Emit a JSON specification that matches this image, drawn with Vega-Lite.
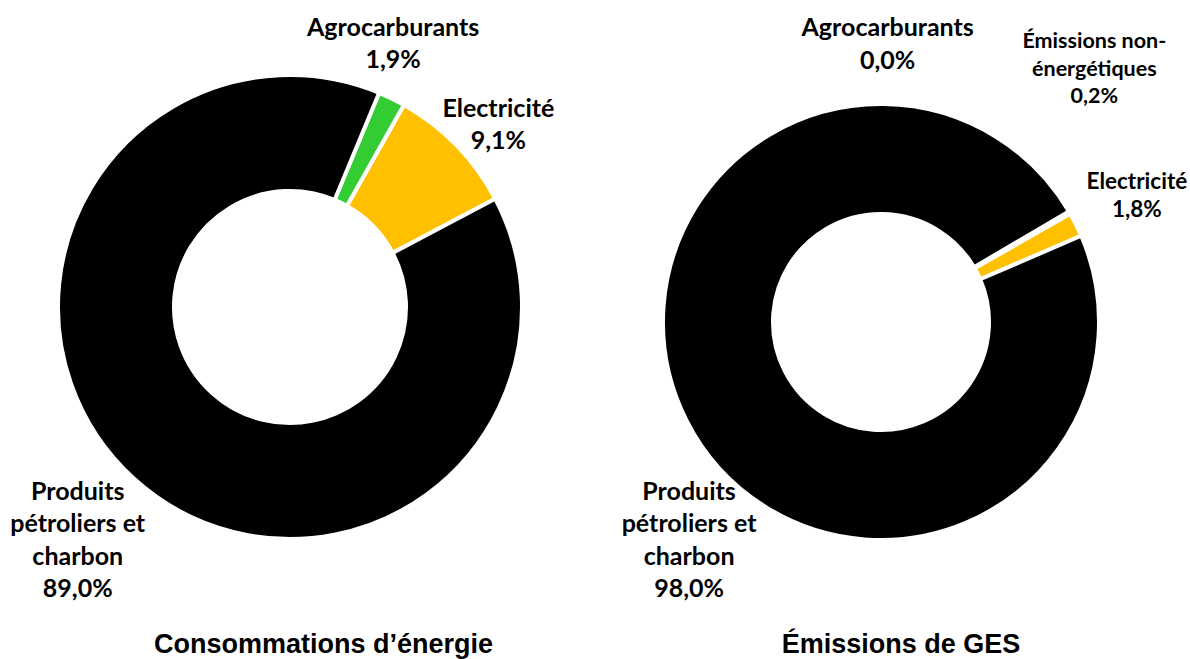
{
  "$schema": "https://vega.github.io/schema/vega-lite/v6.json",
  "background": "white",
  "padding": 0,
  "bounds": "flush",
  "spacing": 0,
  "config": {"view": {"stroke": null}, "font": "Lato"},
  "datasets": {
    "conso": [
      {"name": "Agrocarburants", "value": 1.9, "order": 1, "label": "Agrocarburants\n1,9%"},
      {"name": "Electricité", "value": 9.1, "order": 2, "label": "Electricité\n9,1%"},
      {"name": "Produits pétroliers et charbon", "value": 89.0, "order": 3, "label": "Produits\npétroliers et\ncharbon\n89,0%"}
    ],
    "ges": [
      {"name": "Agrocarburants", "value": 0.0, "order": 1, "label": "Agrocarburants\n0,0%"},
      {"name": "Émissions non-énergétiques", "value": 0.2, "order": 2, "label": "Émissions non-\nénergétiques\n0,2%"},
      {"name": "Electricité", "value": 1.8, "order": 3, "label": "Electricité\n1,8%"},
      {"name": "Produits pétroliers et charbon", "value": 98.0, "order": 4, "label": "Produits\npétroliers et\ncharbon\n98,0%"}
    ]
  },
  "hconcat": [
    {
      "width": 580,
      "height": 614,
      "data": {"name": "conso"},
      "title": {"text": "Consommations d’énergie", "orient": "bottom", "anchor": "middle", "frame": "group", "font": "Liberation Sans", "fontSize": 27, "fontWeight": "bold", "color": "#000000", "offset": 18.3, "dx": 33.5},
      "encoding": {
        "theta": {"field": "value", "type": "quantitative", "stack": true, "scale": {"domain": [0, 100], "range": [0.39444, 6.67763]}},
        "order": {"field": "order", "type": "quantitative"}
      },
      "layer": [
        {
          "mark": {"type": "arc", "outerRadius": 232, "innerRadius": 116, "stroke": "white", "strokeWidth": 4},
          "encoding": {
            "color": {"field": "name", "type": "nominal", "legend": null,
              "scale": {"domain": ["Agrocarburants", "Electricité", "Produits pétroliers et charbon"], "range": ["#33CC33", "#FFC000", "#000000"]}}
          }
        },
        {
          "mark": {"type": "text", "radius": 283, "dx": -21, "dy": -25, "font": "Lato", "fontWeight": "bold", "fontSize": 25, "lineHeight": 32.4, "lineBreak": "\n", "align": "center", "baseline": "middle", "color": "#000000"},
          "encoding": {"text": {"condition": {"test": "datum.name === 'Agrocarburants'", "field": "label", "type": "nominal"}, "value": ""}}
        },
        {
          "mark": {"type": "text", "radius": 278, "dx": 9, "dy": -4.7, "font": "Lato", "fontWeight": "bold", "fontSize": 25, "lineHeight": 32.4, "lineBreak": "\n", "align": "center", "baseline": "middle", "color": "#000000"},
          "encoding": {"text": {"condition": {"test": "datum.name === 'Electricité'", "field": "label", "type": "nominal"}, "value": ""}}
        },
        {
          "mark": {"type": "text", "radius": 270, "dx": -30.2, "dy": -14.4, "font": "Lato", "fontWeight": "bold", "fontSize": 25, "lineHeight": 32.4, "lineBreak": "\n", "align": "center", "baseline": "middle", "color": "#000000"},
          "encoding": {"text": {"condition": {"test": "datum.name === 'Produits pétroliers et charbon'", "field": "label", "type": "nominal"}, "value": ""}}
        }
      ]
    },
    {
      "width": 602,
      "height": 644,
      "data": {"name": "ges"},
      "title": {"text": "Émissions de GES", "orient": "bottom", "anchor": "middle", "frame": "group", "font": "Liberation Sans", "fontSize": 27, "fontWeight": "bold", "color": "#000000", "offset": -11.7, "dx": 20},
      "encoding": {
        "theta": {"field": "value", "type": "quantitative", "stack": true, "scale": {"domain": [0, 100], "range": [1.03847, 7.32166]}},
        "order": {"field": "order", "type": "quantitative"}
      },
      "layer": [
        {
          "mark": {"type": "arc", "outerRadius": 218, "innerRadius": 108, "stroke": "white", "strokeWidth": 4},
          "encoding": {
            "color": {"field": "name", "type": "nominal", "legend": null,
              "scale": {"domain": ["Agrocarburants", "Émissions non-énergétiques", "Electricité", "Produits pétroliers et charbon"], "range": ["#33CC33", "#A5A5A5", "#FFC000", "#000000"]}}
          }
        },
        {
          "mark": {"type": "text", "radius": 280, "dx": -234.6, "dy": -151.4, "font": "Lato", "fontWeight": "bold", "fontSize": 25, "lineHeight": 32.4, "lineBreak": "\n", "align": "center", "baseline": "middle", "color": "#000000"},
          "encoding": {"text": {"condition": {"test": "datum.name === 'Agrocarburants'", "field": "label", "type": "nominal"}, "value": ""}}
        },
        {
          "mark": {"type": "text", "radius": 300, "dx": -46.1, "dy": -128.9, "font": "Lato", "fontWeight": "bold", "fontSize": 21.5, "lineHeight": 27.3, "lineBreak": "\n", "align": "center", "baseline": "middle", "color": "#000000"},
          "encoding": {"text": {"condition": {"test": "datum.name === 'Émissions non-énergétiques'", "field": "label", "type": "nominal"}, "value": ""}}
        },
        {
          "mark": {"type": "text", "radius": 286, "dy": -12.5, "font": "Lato", "fontWeight": "bold", "fontSize": 22.5, "lineHeight": 28.4, "lineBreak": "\n", "align": "center", "baseline": "middle", "color": "#000000"},
          "encoding": {"text": {"condition": {"test": "datum.name === 'Electricité'", "field": "label", "type": "nominal"}, "value": ""}}
        },
        {
          "mark": {"type": "text", "radius": 290, "dx": 66.7, "dy": 38.8, "font": "Lato", "fontWeight": "bold", "fontSize": 25, "lineHeight": 32.4, "lineBreak": "\n", "align": "center", "baseline": "middle", "color": "#000000"},
          "encoding": {"text": {"condition": {"test": "datum.name === 'Produits pétroliers et charbon'", "field": "label", "type": "nominal"}, "value": ""}}
        }
      ]
    }
  ]
}
